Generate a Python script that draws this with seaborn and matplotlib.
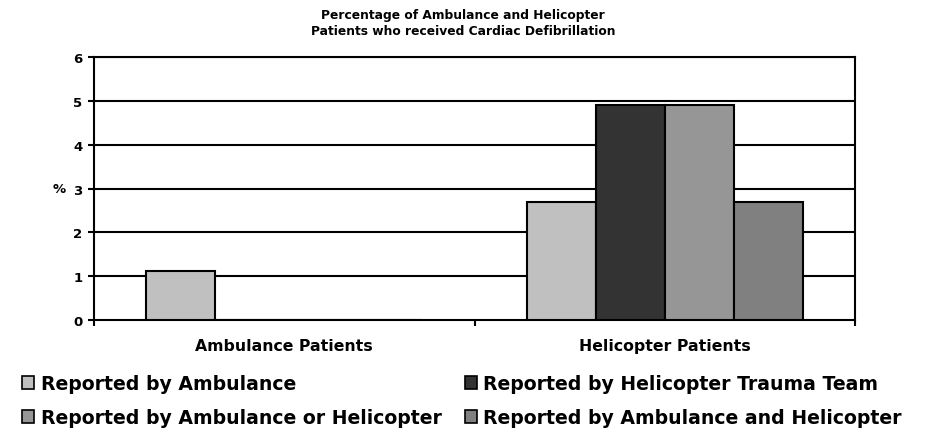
import matplotlib
matplotlib.use("Agg")
import matplotlib.pyplot as plt
import seaborn as sns
import pandas as pd
from matplotlib.patches import Patch

categories = ["Ambulance Patients", "Helicopter Patients"]
series = ["Reported by Ambulance", "Reported by Helicopter Trauma Team",
          "Reported by Ambulance or Helicopter", "Reported by Ambulance and Helicopter"]
ambulance_values = [1.13, 0.0, 0.0, 0.0]
helicopter_values = [2.69, 4.92, 4.92, 2.69]
colors = ["#C0C0C0", "#333333", "#969696", "#808080"]
yticks = [0, 1, 2, 3, 4, 5, 6]

rows = []
for s, a, h in zip(series, ambulance_values, helicopter_values):
    rows.append({"cat": categories[0], "series": s, "value": a})
    rows.append({"cat": categories[1], "series": s, "value": h})
df = pd.DataFrame(rows)

sns.set_theme(style="white")
plt.rcParams["font.family"] = ["DejaVu Sans"]
plt.rcParams["font.weight"] = "bold"
plt.rcParams["text.color"] = "black"
plt.rcParams["axes.labelcolor"] = "black"
plt.rcParams["xtick.color"] = "black"
plt.rcParams["ytick.color"] = "black"

fig = plt.figure(figsize=(9.26, 4.31), dpi=100)
ax = fig.add_axes([94/926, 1 - 321/431, (855-94)/926, (321-58.3)/431])

sns.barplot(data=df, x="cat", y="value", hue="series", order=categories,
            hue_order=series, palette=colors, width=0.726, edgecolor="black",
            linewidth=1.5, ax=ax, legend=False, zorder=3)

ax.set_ylim(0, 6)
ax.set_xlim(-0.5, 1.5)
ax.set_yticks(yticks)
ax.set_yticklabels([str(t) for t in yticks], fontsize=9.5, fontweight="bold", color="black")
for y in yticks[1:]:
    ax.axhline(y, color="black", lw=1.5, zorder=1)
for sp in ax.spines.values():
    sp.set_color("black")
    sp.set_linewidth(1.5)
    sp.set_visible(True)
ax.tick_params(axis="y", which="major", length=4.3, width=1.5, color="black",
               labelcolor="black", direction="out", left=True, pad=4)
ax.set_xticks([0, 1])
ax.set_xticklabels(categories, fontsize=11.3, fontweight="bold", color="black")
ax.tick_params(axis="x", which="major", length=0, pad=13)
ax.set_xticks([-0.5, 0.5, 1.5], minor=True)
ax.tick_params(axis="x", which="minor", length=4.3, width=1.5, color="black",
               direction="out", bottom=True)
ax.set_xlabel("")
ax.set_ylabel("%", rotation=0, fontsize=9.5, fontweight="bold", va="center", ha="right",
              color="black")
ax.yaxis.set_label_coords(-0.0368, 0.5)

fig.text(0.5, 1 - 23.5/431, "Percentage of Ambulance and Helicopter\nPatients who received Cardiac Defibrillation",
         ha="center", va="center", fontsize=8.8, fontweight="bold", linespacing=1.3,
         color="black")

handles = [Patch(facecolor=c, edgecolor="black", linewidth=1.2) for c in colors]
order = [0, 2, 1, 3]
leg = fig.legend([handles[i] for i in order], [series[i] for i in order],
                 loc="upper left", bbox_to_anchor=(22/926, 1 - 375/431), ncol=2, frameon=False,
                 prop={"size": 13.6, "weight": "bold"}, handlelength=0.63, handleheight=0.63,
                 handletextpad=0.35, columnspacing=1.24, labelspacing=0.8, borderpad=0,
                 borderaxespad=0)
for t in leg.get_texts():
    t.set_color("black")

fig.savefig("out.png", dpi=100)
